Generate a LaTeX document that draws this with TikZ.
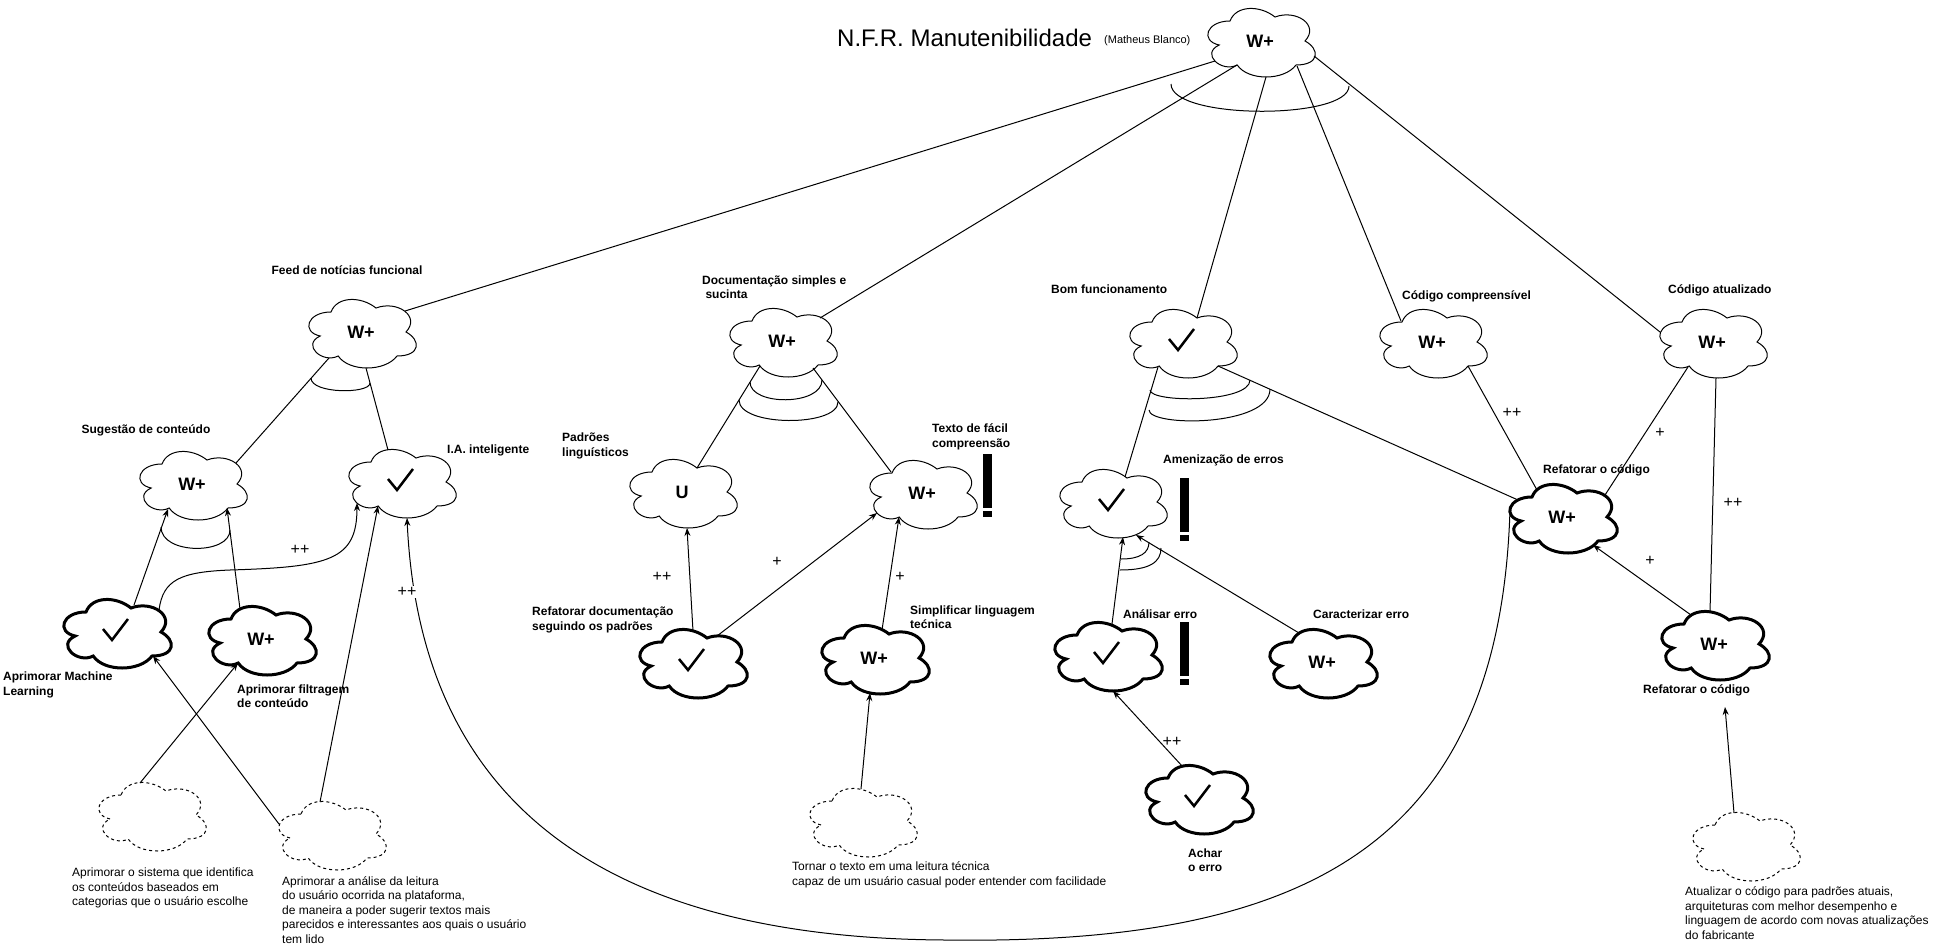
\documentclass[tikz,border=0pt]{standalone}
\usepackage{fontspec}
\setmainfont{Liberation Sans}
\usetikzlibrary{arrows.meta,calc,shapes.geometric}

\newcommand\cld[4]{%
  \draw[#3, shift={(#2)}, x=120pt, y=-80pt] (-0.25,-0.25) .. controls (-0.45,-0.25) and (-0.5,0) .. (-0.34,0.05) .. controls (-0.5,0.16) and (-0.32,0.4) .. (-0.19,0.3) .. controls (-0.1,0.5) and (0.2,0.5) .. (0.3,0.3) .. controls (0.5,0.3) and (0.5,0.1) .. (0.375,0) .. controls (0.5,-0.2) and (0.3,-0.4) .. (0.125,-0.3) .. controls (0,-0.45) and (-0.2,-0.45) .. (-0.25,-0.25) -- cycle;
  \node[cnode] (#1) at (#2) {#4};}
\newcommand\drawcheck[1]{\draw[chkline] ($(#1)+(-13,-3)$) -- ($(#1)+(-4,8)$) -- ($(#1)+(12,-13)$);}
\newcommand\bigexcl[2]{\fill[black] (#1,#2) rectangle ($(#1,#2)+(9,54)$); \fill[black] ($(#1,#2)+(0,57)$) rectangle ($(#1,#2)+(9,63)$);}

\tikzset{
  cnode/.style={ellipse, minimum width=108pt, minimum height=68pt, inner sep=0pt, outer sep=0pt, font=\bfseries\fontsize{18}{18}\selectfont},
  tcloud/.style={draw=black, fill=white, line width=1pt},
  bcloud/.style={draw=black, fill=white, line width=3pt},
  dcloud/.style={draw=black, fill=white, line width=1pt, dash pattern=on 3pt off 3pt},
  conn/.style={draw=black, line width=1pt},
  arr/.style={conn, -{Stealth[length=8pt,width=6pt]}},
  lbl/.style={inner sep=0pt, align=left, font=\bfseries\fontsize{12}{14.5}\selectfont},
  desc/.style={inner sep=0pt, align=left, font=\fontsize{12}{14.5}\selectfont},
  elbl/.style={inner sep=1pt, font=\fontsize{16}{16}\selectfont},
  chkline/.style={line width=2.5pt, line join=miter},
}

\begin{document}
\begin{tikzpicture}[x=1pt, y=-1pt]
\useasboundingbox (0,0) rectangle (1944,945);
\fill[white] (0,0) rectangle (1944,945);

% ---------- title ----------
\node[anchor=west, inner sep=0pt, font=\fontsize{24}{24}\selectfont] (title) at (837,38) {N.F.R. Manutenibilidade};
\node[anchor=west, inner sep=0pt, font=\fontsize{11}{11}\selectfont] (author) at (1104,41) {(Matheus Blanco)};

% ---------- clouds ----------
\cld{top}{1260,41}{tcloud}{W+}
\cld{feed}{361,332}{tcloud}{W+}
\cld{doc}{782,341}{tcloud}{W+}
\cld{bom}{1182,342}{tcloud}{}
\cld{cc}{1432,342}{tcloud}{W+}
\cld{ca}{1712,342}{tcloud}{W+}
\cld{sug}{192,484}{tcloud}{W+}
\cld{ia}{401,482}{tcloud}{}
\cld{u}{682,492}{tcloud}{U}
\cld{texto}{922,493}{tcloud}{W+}
\cld{amen}{1112,502}{tcloud}{}
\cld{refmid}{1562,517}{bcloud}{W+}
\cld{ml}{116,632}{bcloud}{}
\cld{filt}{261,639}{bcloud}{W+}
\cld{refdoc}{692,662}{bcloud}{}
\cld{simpl}{874,658}{bcloud}{W+}
\cld{analisar}{1107,655}{bcloud}{}
\cld{caract}{1322,662}{bcloud}{W+}
\cld{refbot}{1714,644}{bcloud}{W+}
\cld{achar}{1198,798}{bcloud}{}
\cld{d1}{151,815}{dcloud}{}
\cld{d2}{331,834}{dcloud}{}
\cld{d3}{862,821}{dcloud}{}
\cld{d4}{1745,845}{dcloud}{}

\drawcheck{bom}
\drawcheck{ia}
\drawcheck{amen}
\drawcheck{ml}
\drawcheck{refdoc}
\drawcheck{analisar}
\drawcheck{achar}

% ---------- exclamation marks ----------
\bigexcl{983}{454}
\bigexcl{1180}{478}
\bigexcl{1180}{622}

% ---------- labels ----------
\node[lbl] (lfeed) at (347,270) {Feed de notícias funcional};
\node[lbl, anchor=west] (ldoc) at (702,287) {Documentação simples e\\\hspace*{3.3pt}sucinta};
\node[lbl, anchor=west] (lbom) at (1051,289) {Bom funcionamento};
\node[lbl, anchor=west] (lcc) at (1402,296) {Código compreensível};
\node[lbl, anchor=west] (lca) at (1668,290) {Código atualizado};
\node[lbl] (lsug) at (146,430) {Sugestão de conteúdo};
\node[lbl, anchor=west] (lia) at (447,450) {I.A. inteligente};
\node[lbl, anchor=west] (lpad) at (562,446) {Padrões\\linguísticos};
\node[lbl, anchor=west] (ltexto) at (932,437) {Texto de fácil\\compreensão};
\node[lbl, anchor=west] (lamen) at (1163,460) {Amenização de erros};
\node[lbl, anchor=west] (lrefmid) at (1543,470) {Refatorar o código};
\node[lbl, anchor=west] (lml) at (3,685) {Aprimorar Machine\\Learning};
\node[lbl, anchor=west] (lfilt) at (237,696) {Aprimorar filtragem\\de conteúdo};
\node[lbl, anchor=west] (lrefdoc) at (532,620) {Refatorar documentação\\seguindo os padrões};
\node[lbl, anchor=west] (lsimpl) at (910,617) {Simplificar linguagem\\tećnica};
\node[lbl, anchor=west] (lanalisar) at (1123,614) {Análisar erro};
\node[lbl, anchor=west] (lcaract) at (1313,614) {Caracterizar erro};
\node[lbl, anchor=west] (lachar) at (1188,860) {Achar\\o erro};
\node[lbl, anchor=west] (lrefbot) at (1643,690) {Refatorar o código};

\node[desc, anchor=west] (desc1) at (72,888) {Aprimorar o sistema que identifica\\os conteúdos baseados em\\categorias que o usuário escolhe};
\node[desc, anchor=west] (desc2) at (282,910) {Aprimorar a análise da leitura\\do usuário ocorrida na plataforma,\\de maneira a poder sugerir textos mais\\parecidos e interessantes aos quais o usuário\\tem lido};
\node[desc, anchor=west] (desc3) at (792,875) {Tornar o texto em uma leitura técnica\\capaz de um usuário casual poder entender com facilidade};
\node[desc, anchor=west] (desc4) at (1685,913) {Atualizar o código para padrões atuais,\\arquiteturas com melhor desempenho e\\linguagem de acordo com novas atualizações\\do fabricante};

% ---------- decomposition arcs ----------
\draw[conn] (1171,84) .. controls (1171,120) and (1349,120) .. (1349,86);
\draw[conn] (311,378) .. controls (311,394) and (370,394) .. (370,383);
\draw[conn] (161,527) .. controls (161,555) and (230,555) .. (230,530);
\draw[conn] (750,382) .. controls (750,406) and (822,406) .. (822,380);
\draw[conn] (739,400) .. controls (739,427) and (838,427) .. (838,402);
\draw[conn] (1150,390) .. controls (1150,403) and (1250,403) .. (1250,380);
\draw[conn] (1149,410) .. controls (1149,427) and (1270,427) .. (1270,389);
\draw[conn] (1121,559) .. controls (1140,559) and (1149,553) .. (1149,542);
\draw[conn] (1120,570) .. controls (1150,570) and (1161,562) .. (1161,548);

% ---------- connectors ----------
\draw[conn] ($(top)+(-45,20)$) -- ($(feed)+(44,-21)$);
\draw[conn] ($(top)+(-23,24)$) -- ($(doc)+(38,-23)$);
\draw[conn] ($(top)+(6,36)$) -- ($(bom)+(15,-24)$);
\draw[conn] ($(top)+(37,25)$) -- ($(cc)+(-31,-21)$);
\draw[conn] ($(top)+(54,15)$) -- ($(ca)+(-52,-10)$);

\draw[conn] ($(feed)+(-32,26)$) -- ($(sug)+(44,-21)$);
\draw[conn] ($(feed)+(5,36)$) -- ($(ia)+(-13,-32)$);
\draw[arr] ($(ml)+(18,-27)$) -- ($(sug)+(-24,25)$);
\draw[arr] ($(filt)+(-21,-30)$) -- ($(sug)+(35,24)$);
\draw[arr] ($(ml)+(43,-22)$) .. controls (163,580) and (180,572) .. (230,570) .. controls (330,567) and (357,560) .. ($(ia)+(-44,21)$);
\draw[arr] ($(d1)+(-11,-32)$) -- ($(filt)+(-23,24)$);
\draw[arr] ($(d2)+(-52,-10)$) -- ($(ml)+(37,24)$);
\draw[arr] ($(d2)+(-11,-32)$) -- ($(ia)+(-23,24)$);
\draw[arr] ($(refmid)+(-52,-8)$) .. controls (1500,850) and (1300,945) .. (945,940) .. controls (600,938) and (420,800) .. ($(ia)+(6,36)$);

\draw[conn] ($(doc)+(-22,25)$) -- ($(u)+(15,-24)$);
\draw[conn] ($(doc)+(31,27)$) -- ($(texto)+(-31,-21)$);
\draw[arr] ($(refdoc)+(1,-31)$) -- ($(u)+(5,36)$);
\draw[arr] ($(refdoc)+(25,-26)$) -- ($(texto)+(-45,20)$);
\draw[arr] ($(simpl)+(8,-28)$) -- ($(texto)+(-23,24)$);
\draw[arr] ($(d3)+(-1,-32)$) -- ($(simpl)+(-4,35)$);

\draw[conn] ($(bom)+(-24,25)$) -- ($(amen)+(13,-25)$);
\draw[conn] ($(bom)+(36,24)$) -- ($(refmid)+(-44,-17)$);
\draw[arr] ($(analisar)+(5,-31)$) -- ($(amen)+(11,35)$);
\draw[arr] ($(caract)+(-23,-29)$) -- ($(amen)+(24,33)$);
\draw[arr] ($(achar)+(-15,-31)$) -- ($(analisar)+(6,36)$);

\draw[conn] ($(cc)+(36,24)$) -- ($(refmid)+(-25,-27)$);
\draw[conn] ($(ca)+(-24,25)$) -- ($(refmid)+(43,-22)$);
\draw[conn] ($(ca)+(4,36)$) -- ($(refbot)+(-4,-32)$);
\draw[arr] ($(refbot)+(-23,-29)$) -- ($(refmid)+(31,28)$);
\coordinate (d4tip) at (1725,707);
\draw[arr] ($(d4)+(-11,-32)$) -- (d4tip);

% ---------- contribution labels ----------
\node[elbl] (c1) at (300,550) {++};
\node[elbl, fill=white] (c2) at (407,592) {++};
\node[elbl] (c3) at (662,577) {++};
\node[elbl] (c4) at (777,562) {+};
\node[elbl] (c5) at (900,577) {+};
\node[elbl] (c6) at (1172,742) {++};
\node[elbl] (c7) at (1512,413) {++};
\node[elbl] (c8) at (1660,433) {+};
\node[elbl] (c9) at (1733,503) {++};
\node[elbl] (c10) at (1650,561) {+};
\end{tikzpicture}
\end{document}
